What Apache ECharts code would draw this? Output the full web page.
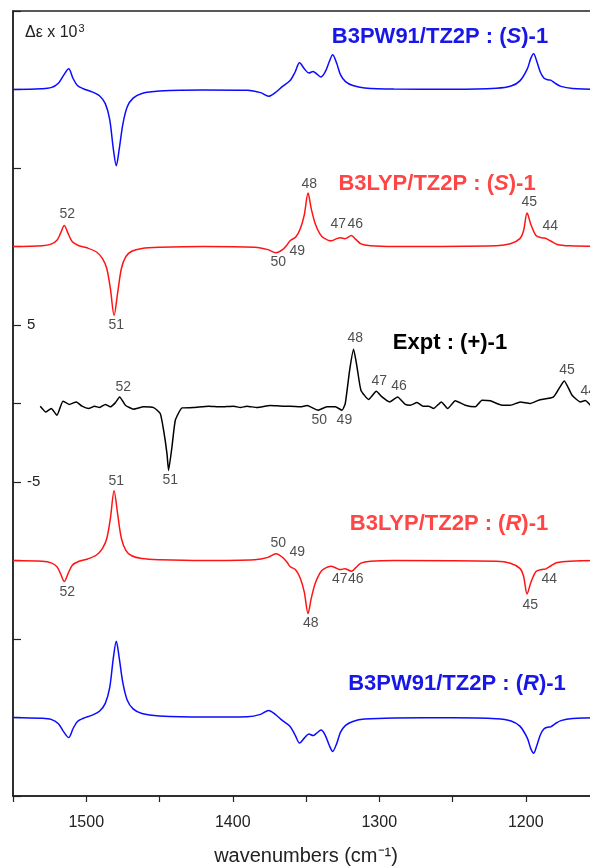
<!DOCTYPE html>
<html>
<head>
<meta charset="utf-8">
<script src="https://cdn.jsdelivr.net/npm/echarts@6/dist/echarts.min.js"></script>
<style>
  html, body { margin: 0; padding: 0; background: #fff; overflow: hidden; }
  /* the source figure is cropped on the right, so the chart is a bit wider than the window */
  #main { width: 600px; height: 867px; }
</style>
</head>
<body>
<div id="main"></div>
<script>
// wavenumber (cm-1), delta epsilon relative to each trace's own baseline
const b3pw91S = [
  [1550,0],[1531,0.05],[1524,0.12],[1519,0.4],[1515.5,0.9],[1512,1.32],[1509,0.7],[1506,0.25],
  [1502,0.05],[1496,-0.15],[1491,-0.4],[1487,-0.9],[1484,-1.9],[1481.5,-3.8],[1479.5,-4.85],
  [1477.5,-3.8],[1475,-2.2],[1472,-1.1],[1468,-0.55],[1462,-0.25],[1450,-0.1],[1420,-0.03],
  [1390,-0.05],[1381,-0.2],[1375.5,-0.43],[1371,-0.2],[1366,0.2],[1361,0.55],[1357.5,1.1],
  [1354.4,1.7],[1351,1.3],[1348,1.05],[1345.2,1.15],[1342.5,0.98],[1339.8,0.8],[1337,1.1],
  [1334,1.8],[1331.8,2.21],[1329,1.65],[1326.5,0.95],[1323,0.5],[1318,0.25],[1310,0.1],
  [1290,0.03],[1250,0.02],[1220,0.08],[1210,0.22],[1204,0.55],[1199,1.3],[1196.5,2.0],
  [1194.6,2.28],[1192.5,1.8],[1190,1.1],[1187.5,0.72],[1185,0.62],[1183,0.6],[1180,0.4],
  [1176,0.2],[1168,0.07],[1150,0.02]
]
const b3lypS = [
  [1550,0],[1530,0.05],[1524,0.15],[1520,0.4],[1517.5,0.85],[1515,1.34],[1512.5,0.85],[1509.5,0.3],
  [1505,0.05],[1499,-0.1],[1493,-0.35],[1489,-0.75],[1486,-1.4],[1483.5,-2.7],[1481,-4.4],
  [1478.5,-2.9],[1476,-1.4],[1473,-0.65],[1469,-0.3],[1462,-0.12],[1450,-0.05],[1420,0],
  [1385,-0.05],[1376,-0.2],[1370.5,-0.4],[1366,-0.2],[1363,0.1],[1360.7,0.38],[1357,0.6],
  [1353.9,1.13],[1351.2,2.0],[1348.6,3.4],[1346.4,2.4],[1343.7,1.45],[1340.5,0.8],[1338,0.55],
  [1333,0.36],[1329,0.5],[1326.6,0.55],[1323.5,0.5],[1319,0.7],[1316,0.45],[1312.5,0.17],
  [1306,0.05],[1290,0],[1220,0.05],[1210.5,0.17],[1204,0.5],[1201.5,1.0],[1199.1,2.13],
  [1196.5,1.4],[1193,0.7],[1189,0.55],[1186.6,0.53],[1183,0.35],[1178.5,0.13],[1170,0.04],[1150,0]
]
const exptPlus = [
  [1531.4,-0.17],[1527.5,-0.54],[1523.9,-0.32],[1520.0,-0.75],[1515.9,0.15],[1511.6,-0.06],
  [1506.8,0.1],[1502.9,-0.17],[1498.4,-0.32],[1494.3,-0.17],[1490.9,-0.26],[1487.0,-0.06],
  [1483.6,-0.21],[1480.2,0.04],[1477.2,0.42],[1473.3,-0.11],[1467.7,-0.36],[1460.9,-0.21],
  [1454.0,-0.26],[1449.5,-0.64],[1447.2,-1.7],[1444.9,-3.19],[1443.8,-4.26],[1441.5,-2.77],
  [1439.2,-1.07],[1434.6,-0.28],[1426.7,-0.26],[1416.5,-0.17],[1408.5,-0.21],[1399.4,-0.17],
  [1394.8,-0.26],[1390.3,-0.17],[1383.4,-0.26],[1374.4,-0.13],[1365.3,-0.17],[1360.7,-0.17],
  [1353.9,-0.21],[1349.3,-0.13],[1341.8,-0.43],[1335.7,-0.21],[1330.0,-0.21],[1325.4,-0.43],
  [1323.2,0],[1320.2,2.13],[1317.5,3.45],[1315.2,2.34],[1312.5,0.85],[1307.3,0.26],[1302.0,0.78],
  [1298.1,0.42],[1292.9,0.1],[1287.5,0.42],[1282.2,-0.06],[1278.8,-0.11],[1274.2,0.06],
  [1270.1,-0.17],[1266.3,-0.17],[1262.9,-0.32],[1257.6,0.1],[1253.3,-0.32],[1248.1,0.17],
  [1241.3,-0.11],[1234.4,-0.21],[1229.9,0.21],[1224.2,0.17],[1216.2,-0.11],[1210.5,-0.11],
  [1203.7,0.1],[1196.9,0],[1191.2,0.21],[1181.0,0.42],[1173.7,1.44],[1168.4,0.53],[1162.8,0.1],
  [1159.4,0.19],[1155.9,-0.11]
]
const b3lypR = [
  [1550,0],[1530,-0.05],[1524,-0.15],[1520,-0.4],[1517.5,-0.85],[1515,-1.34],[1512.5,-0.85],[1509.5,-0.3],
  [1505,-0.05],[1499,0.1],[1493,0.35],[1489,0.75],[1486,1.4],[1483.5,2.7],[1481,4.45],
  [1478.5,2.9],[1476,1.4],[1473,0.65],[1469,0.3],[1462,0.12],[1450,0.05],[1420,0],
  [1385,0.05],[1376,0.2],[1370.5,0.43],[1366,0.2],[1363,-0.1],[1360.7,-0.4],[1357,-0.6],
  [1353.9,-1.13],[1351.2,-2.0],[1348.6,-3.38],[1346.4,-2.4],[1343.7,-1.45],[1340.5,-0.8],[1338,-0.55],
  [1333,-0.36],[1329,-0.5],[1326.6,-0.58],[1323.5,-0.52],[1319,-0.68],[1316,-0.45],[1312.5,-0.17],
  [1306,-0.05],[1290,0],[1220,-0.05],[1210.5,-0.17],[1204,-0.5],[1201.5,-1.0],[1199.1,-2.13],
  [1196.5,-1.4],[1193,-0.7],[1189,-0.57],[1186.6,-0.55],[1183,-0.35],[1178.5,-0.13],[1170,-0.04],[1150,0]
]
const b3pw91R = [
  [1550,0],[1531,-0.05],[1524,-0.12],[1519,-0.4],[1515.5,-0.9],[1512,-1.28],[1509,-0.7],[1506,-0.25],
  [1502,-0.05],[1496,0.15],[1491,0.4],[1487,0.9],[1484,1.9],[1481.5,3.8],[1479.5,4.85],
  [1477.5,3.8],[1475,2.2],[1472,1.1],[1468,0.55],[1462,0.25],[1450,0.1],[1420,0.03],
  [1390,0.05],[1381,0.2],[1375.5,0.45],[1371,0.2],[1366,-0.2],[1361,-0.55],[1357.5,-1.1],
  [1354.4,-1.63],[1351,-1.3],[1348,-1.05],[1345.2,-1.15],[1342.5,-0.98],[1339.8,-0.8],[1337,-1.1],
  [1334,-1.8],[1331.8,-2.16],[1329,-1.65],[1326.5,-0.95],[1323,-0.5],[1318,-0.25],[1310,-0.1],
  [1290,-0.03],[1250,-0.02],[1220,-0.08],[1210,-0.22],[1204,-0.55],[1199,-1.3],[1196.5,-2.0],
  [1194.6,-2.27],[1192.5,-1.8],[1190,-1.1],[1187.5,-0.72],[1185,-0.62],[1183,-0.6],[1180,-0.4],
  [1176,-0.2],[1168,-0.07],[1150,-0.02]
]
// vertical offsets of the stacked traces
const offsets = [20, 10, 0, -10, -20]

// peak numbers: [wavenumber, delta eps, text]
const labelsLypS = [
  [1512.9,12.08,'52'],[1479.5,5.0,'51'],[1368.9,9.02,'50'],[1355.9,9.73,'49'],[1347.7,14.0,'48'],
  [1328,11.44,'47'],[1316.4,11.44,'46'],[1197.6,12.85,'45'],[1183.2,11.27,'44']
]
const labelsExpt = [
  [1474.7,1.04,'52'],[1442.6,-4.89,'51'],[1340.9,-1.07,'50'],[1323.8,-1.07,'49'],[1316.4,4.19,'48'],
  [1300,1.42,'47'],[1286.5,1.10,'46'],[1171.8,2.13,'45'],[1157.3,0.79,'44']
]
const labelsLypR = [
  [1479.5,-4.94,'51'],[1512.9,-12.02,'52'],[1368.9,-8.92,'50'],[1355.9,-9.49,'49'],[1346.7,-14.02,'48'],
  [1326.9,-11.21,'47'],[1316,-11.21,'46'],[1196.9,-12.87,'45'],[1183.9,-11.18,'44']
]
const xTicks = [1500, 1400, 1300, 1200]
const yTicks = [5, -5]

const FONT = '"Liberation Sans", Arial, Helvetica, sans-serif'
const BLUE = '#0b0bff'
const RED = '#ff1414'
const BLUE_T = '#1717e8'
const RED_T = '#ff4545'

const shift = (arr, off) => arr.map(p => [p[0], p[1] + off])

const lineSeries = (data, color, off, smooth) => ({
  type: 'line',
  data: shift(data, off),
  showSymbol: false,
  smooth: smooth,
  silent: true,
  lineStyle: { color: color, width: 1.5 },
  z: 3
})

const labelSeries = data => ({
  type: 'scatter',
  data: data,
  symbolSize: 0,
  silent: true,
  label: {
    show: true,
    position: 'inside',
    formatter: p => p.data[2],
    fontFamily: FONT,
    fontSize: 14,
    color: '#222'
  },
  z: 4
})

const titleText = (x, y, pre, ital, post, color) => ({
  type: 'text',
  x: x,
  y: y,
  z: 10,
  style: {
    text: '{b|' + pre + '}{i|' + ital + '}{b|' + post + '}',
    align: 'center',
    verticalAlign: 'middle',
    rich: {
      b: { fontFamily: FONT, fontSize: 22, fontWeight: 'bold', fill: color, color: color },
      i: { fontFamily: FONT, fontSize: 22, fontWeight: 'bold', fontStyle: 'italic', fill: color, color: color }
    }
  }
})

const chart = echarts.init(document.getElementById('main'), null, { renderer: 'canvas' })

chart.setOption({
  animation: false,
  backgroundColor: '#fff',
  grid: {
    left: 13, top: 11, width: 586, height: 785,
    outerBoundsMode: 'none',
    containLabel: false,
    show: true, borderColor: '#222', borderWidth: 1.5, backgroundColor: 'transparent'
  },
  xAxis: {
    type: 'value',
    inverse: true,
    min: 1150, max: 1550, interval: 50,
    axisLine: { onZero: false, lineStyle: { color: '#222', width: 1.5 } },
    axisTick: { inside: false, length: 6, lineStyle: { color: '#222', width: 1.2 } },
    axisLabel: {
      formatter: v => (xTicks.indexOf(v) >= 0 ? String(v) : ''),
      fontFamily: FONT, fontSize: 16, color: '#222', margin: 19
    },
    splitLine: { show: false },
    name: 'wavenumbers (cm⁻¹)',
    nameLocation: 'middle',
    nameGap: 50,
    nameTextStyle: { fontFamily: FONT, fontSize: 20, color: '#222' }
  },
  yAxis: {
    type: 'value',
    min: -25, max: 25, interval: 5,
    axisLine: { show: true, onZero: false, lineStyle: { color: '#222', width: 1.5 } },
    axisTick: { show: true, inside: true, length: 8, lineStyle: { color: '#222', width: 1.2 } },
    axisLabel: {
      inside: true,
      formatter: v => (yTicks.indexOf(v) >= 0 ? String(v) : ''),
      fontFamily: FONT, fontSize: 15, color: '#222', margin: 14
    },
    splitLine: { show: false }
  },
  graphic: [
    {
      type: 'text', x: 25, y: 33, z: 10,
      style: {
        text: '{a|Δε x 10}{s|3}',
        verticalAlign: 'middle',
        rich: {
          a: { fontFamily: FONT, fontSize: 16, fill: '#222', color: '#222' },
          s: { fontFamily: FONT, fontSize: 11, fill: '#222', color: '#222', verticalAlign: 'top', padding: [0, 0, 8, 1] }
        }
      }
    },
    titleText(440, 37, 'B3PW91/TZ2P : (', 'S', ')-1', BLUE_T),
    titleText(437, 184, 'B3LYP/TZ2P : (', 'S', ')-1', RED_T),
    titleText(450, 343, 'Expt : (+)-1', '', '', '#000'),
    titleText(449, 524, 'B3LYP/TZ2P : (', 'R', ')-1', RED_T),
    titleText(457, 684, 'B3PW91/TZ2P : (', 'R', ')-1', BLUE_T)
  ],
  series: [
    lineSeries(b3pw91S, BLUE, offsets[0], 0.3),
    lineSeries(b3lypS, RED, offsets[1], 0.3),
    lineSeries(exptPlus, '#000', offsets[2], 0.15),
    lineSeries(b3lypR, RED, offsets[3], 0.3),
    lineSeries(b3pw91R, BLUE, offsets[4], 0.3),
    labelSeries(labelsLypS),
    labelSeries(labelsExpt),
    labelSeries(labelsLypR)
  ]
})
</script>
</body>
</html>
